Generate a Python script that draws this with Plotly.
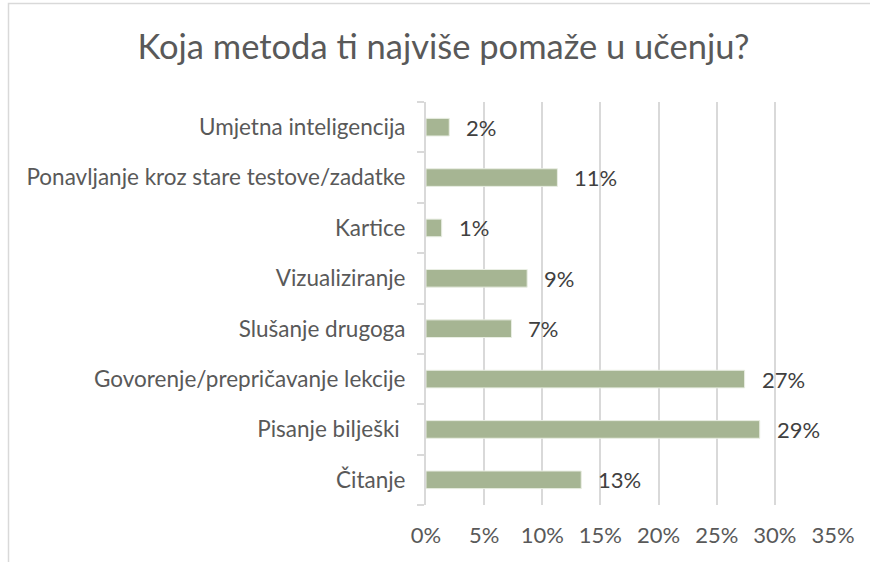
import plotly.graph_objects as go

categories = [
    "Čitanje",
    "Pisanje bilješki\u00a0",
    "Govorenje/prepričavanje lekcije",
    "Slušanje drugoga",
    "Vizualiziranje",
    "Kartice",
    "Ponavljanje kroz stare testove/zadatke",
    "Umjetna inteligencija",
]
values = [13.35, 28.7, 27.4, 7.35, 8.7, 1.35, 11.3, 2.0]
value_labels = ["13%", "29%", "27%", "7%", "9%", "1%", "11%", "2%"]
x_ticks = [0, 5, 10, 15, 20, 25, 30, 35]
x_tick_labels = ["0%", "5%", "10%", "15%", "20%", "25%", "30%", "35%"]

title_text = "Koja metoda ti najviše pomaže u učenju?"

FONT = "Lato"
BAR = "#A6B593"
GRID = "#D9D9D9"
LBL = 22.5

fig = go.Figure()
fig.add_trace(go.Bar(
    y=categories,
    x=values,
    orientation="h",
    marker=dict(color=BAR, line=dict(color="#E9EEE3", width=1)),
    hoverinfo="skip",
))

for c, v, t in zip(categories, values, value_labels):
    fig.add_annotation(
        x=v, y=c, xref="x", yref="y", text=t, showarrow=False,
        xanchor="left", yanchor="middle", xshift=15,
        font=dict(family=FONT, size=LBL - 0.5, color="#404040"),
    )

fig.update_layout(
    width=870, height=562,
    margin=dict(l=426, r=37, t=102, b=57),
    paper_bgcolor="white", plot_bgcolor="white",
    bargap=0.65,
    showlegend=False,
    title=dict(
        text=title_text, x=(136 + 751) / 2 / 870, xanchor="center", xref="container",
        y=1 - 47 / 562, yanchor="middle", yref="container",
        font=dict(family=FONT, size=34.5, color="#595959"),
    ),
    font=dict(family=FONT, color="#595959"),
)

fig.update_xaxes(
    range=[0, 35], tickvals=x_ticks, ticktext=x_tick_labels,
    showgrid=True, gridcolor=GRID, gridwidth=2,
    zeroline=False, showline=False, ticks="",
    tickfont=dict(family=FONT, size=LBL - 0.5, color="#595959"),
    ticklabelstandoff=15,
)
fig.update_yaxes(
    categoryorder="array", categoryarray=categories,
    showline=True, linecolor=GRID, linewidth=2,
    ticks="outside", ticklen=7, tickcolor=GRID, tickwidth=2,
    tickson="boundaries", showgrid=False,
    tickfont=dict(family=FONT, size=LBL, color="#595959"),
    ticklabelstandoff=14,
)

fig.add_shape(type="rect", xref="paper", yref="paper",
              x0=(8.5 - 426) / 407, x1=(880 - 426) / 407,
              y0=-(570 - 505) / 403, y1=(505 - 3.5) / 403,
              line=dict(color="#D9D9D9", width=1.5), layer="below")

fig.write_html(
    "out.html",
    config={"displayModeBar": False},
    post_script="document.body.style.margin='0';document.body.style.overflow='hidden';",
)
